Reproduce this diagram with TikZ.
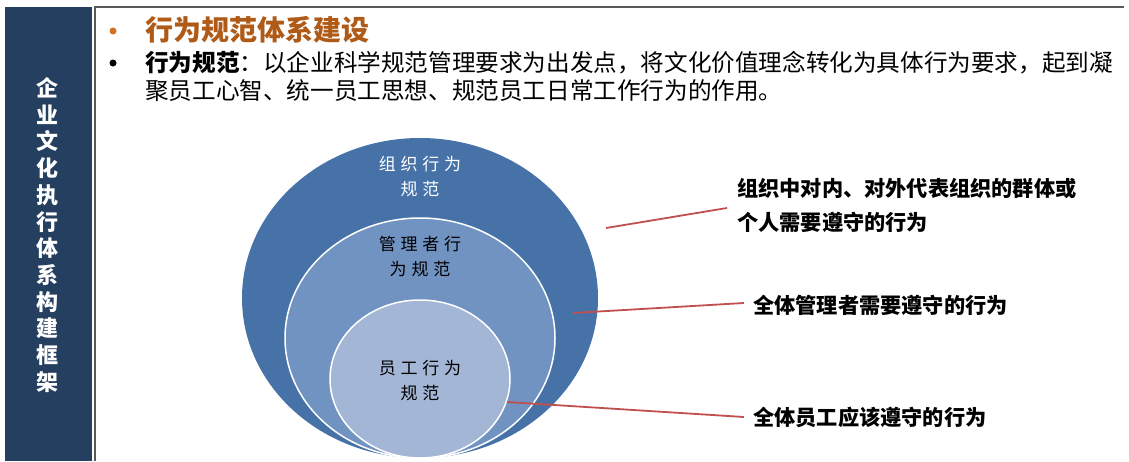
\documentclass[tikz,border=0pt]{standalone}
\usepackage{fontspec}
\usetikzlibrary{shapes.geometric}
\newfontfamily\cjk{Noto Sans CJK SC}
\newfontfamily\cjkls{Noto Sans CJK SC}[LetterSpace=28]
\definecolor{navy}{HTML}{243F60}
\definecolor{outerblue}{HTML}{4672A8}
\definecolor{midblue}{HTML}{7193C2}
\definecolor{innerblue}{HTML}{A3B6D6}
\definecolor{titlebrown}{HTML}{B05A17}
\definecolor{bulletorange}{HTML}{D2711F}
\definecolor{linered}{HTML}{C0504D}
\definecolor{framegray}{HTML}{5A5A5A}
\tikzset{
  ring/.style={ellipse, inner sep=0pt},
  ringtext/.style={font=\cjkls\fontsize{17}{25}\selectfont, align=center, inner sep=0pt},
  sidetext/.style={font=\cjk\bfseries\fontsize{21.2}{34}\selectfont, align=left, anchor=west, inner sep=0pt},
  callout/.style={draw=linered, line width=1.8pt},
  bodytext/.style={font=\cjk\fontsize{23.6}{28}\selectfont, anchor=west, inner sep=0pt},
  bulletdot/.style={circle, inner sep=0pt, minimum size=7pt},
}
\begin{document}
\begin{tikzpicture}[x=1pt, y=-1pt]
\useasboundingbox (0,0) rectangle (1129,461);
% left panel
\fill[navy] (5,7) rectangle (92,461);
\node[font=\cjk\bfseries\fontsize{22}{26.7}\selectfont, text=white, align=center, inner sep=0pt] (side) at (47,235)
  {企\\业\\文\\化\\执\\行\\体\\系\\构\\建\\框\\架};
% frame
\draw[framegray, line width=1.4pt] (1124,7) -- (95,7) -- (95,461);
% title
\node[bulletdot, fill=bulletorange] (b1) at (113,31) {};
\node[font=\cjk\bfseries\fontsize{28}{28}\selectfont, text=titlebrown, anchor=west, inner sep=0pt] (title) at (145,30) {行为规范体系建设};
% body
\node[bulletdot, fill=black] (b2) at (113,63) {};
\node[bodytext] (body1) at (145,63) {\textbf{行为规范}：以企业科学规范管理要求为出发点，将文化价值理念转化为具体行为要求，起到凝};
\node[bodytext] (body2) at (145,91) {聚员工心智、统一员工思想、规范员工日常工作行为的作用。};
% rings
\node[ring, fill=outerblue, minimum width=356pt, minimum height=320pt] (outer) at (420,298) {};
\node[ring, fill=midblue, draw=white, line width=1.5pt, minimum width=270pt, minimum height=240pt] (mid) at (420,338) {};
\node[ring, fill=innerblue, draw=white, line width=1.5pt, minimum width=180pt, minimum height=158pt] (inner) at (420,379) {};
\node[ringtext, text=white] (t1) at (420,177) {组织行为\\规范};
\node[ringtext, text=black] (t2) at (420,256) {管理者行\\为规范};
\node[ringtext, text=black] (t3) at (420,381) {员工行为\\规范};
% side labels
\node[sidetext] (l1) at (737,205) {组织中对内、对外代表组织的群体或\\个人需要遵守的行为};
\node[sidetext] (l2) at (753,305) {全体管理者需要遵守的行为};
\node[sidetext] (l3) at (753,417) {全体员工应该遵守的行为};
% connectors
\coordinate (c1) at (606,228);
\coordinate (c2) at (573,313);
\coordinate (c3) at (507,402);
\draw[callout] (c1) -- ([xshift=-10pt,yshift=-3pt]l1.west);
\draw[callout] (c2) -- ([xshift=-9pt,yshift=2pt]l2.west);
\draw[callout] (c3) -- ([xshift=-9pt]l3.west);
\end{tikzpicture}
\end{document}
